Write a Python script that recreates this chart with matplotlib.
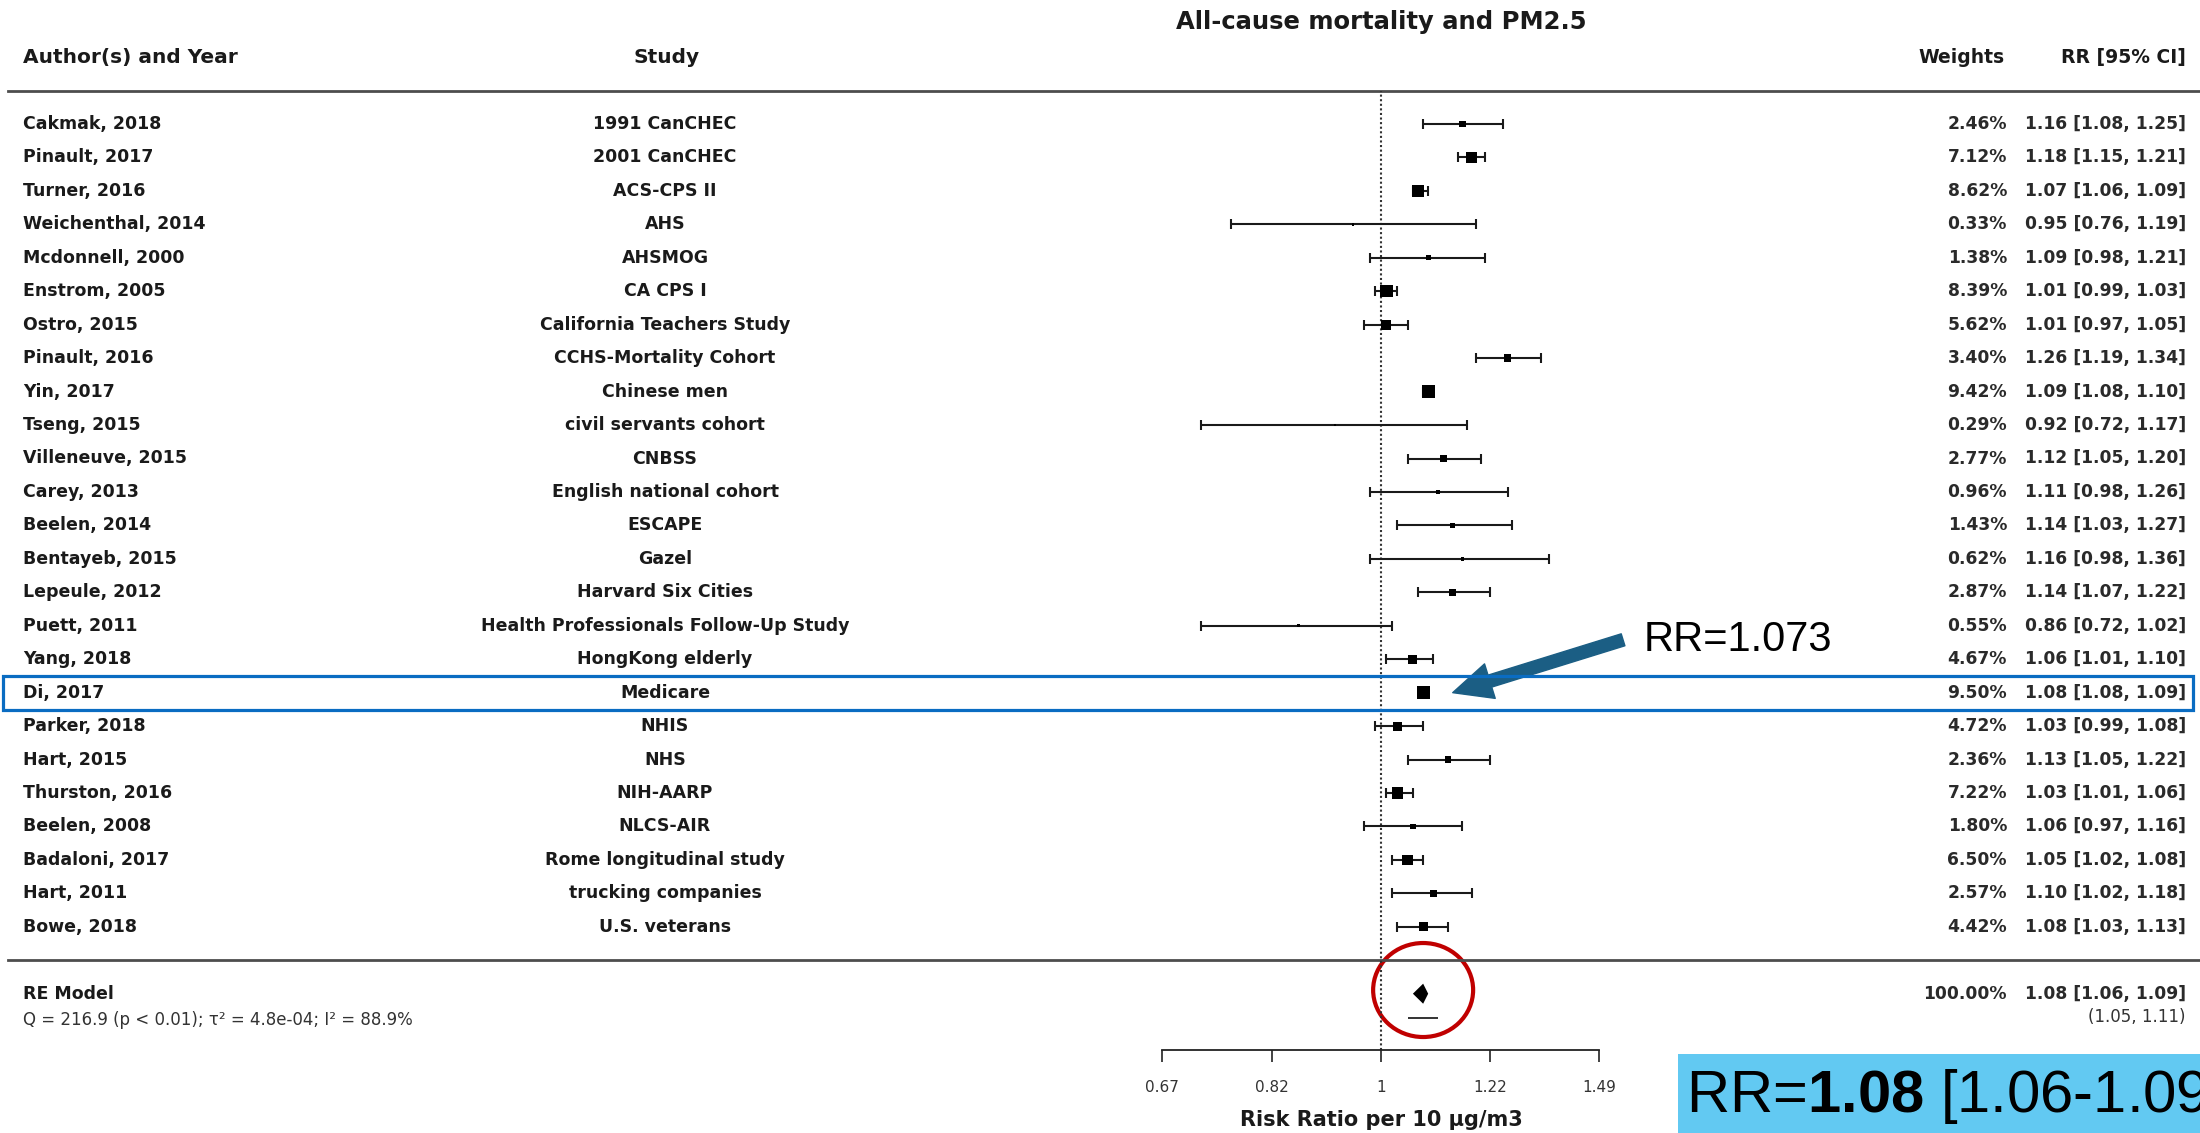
import numpy as np
import matplotlib.pyplot as plt
from matplotlib.patches import Rectangle, Ellipse
from matplotlib.transforms import ScaledTranslation
from matplotlib.ticker import NullLocator

plt.rcParams['font.family'] = ['DejaVu Sans']
plt.rcParams['mathtext.fontset'] = 'custom'
plt.rcParams['mathtext.rm'] = 'Liberation Sans'
plt.rcParams['mathtext.bf'] = 'Liberation Sans:bold'

# per-study results (RR per 10 ug/m3 PM2.5)
authors = ["Cakmak, 2018", "Pinault, 2017", "Turner, 2016", "Weichenthal, 2014",
           "Mcdonnell, 2000", "Enstrom, 2005", "Ostro, 2015", "Pinault, 2016",
           "Yin, 2017", "Tseng, 2015", "Villeneuve, 2015", "Carey, 2013",
           "Beelen, 2014", "Bentayeb, 2015", "Lepeule, 2012", "Puett, 2011",
           "Yang, 2018", "Di, 2017", "Parker, 2018", "Hart, 2015",
           "Thurston, 2016", "Beelen, 2008", "Badaloni, 2017", "Hart, 2011",
           "Bowe, 2018"]
studies = ["1991 CanCHEC", "2001 CanCHEC", "ACS-CPS II", "AHS", "AHSMOG",
           "CA CPS I", "California Teachers Study", "CCHS-Mortality Cohort",
           "Chinese men", "civil servants cohort", "CNBSS", "English national cohort",
           "ESCAPE", "Gazel", "Harvard Six Cities", "Health Professionals Follow-Up Study",
           "HongKong elderly", "Medicare", "NHIS", "NHS", "NIH-AARP", "NLCS-AIR",
           "Rome longitudinal study", "trucking companies", "U.S. veterans"]
weights = [2.46, 7.12, 8.62, 0.33, 1.38, 8.39, 5.62, 3.40, 9.42, 0.29, 2.77, 0.96,
           1.43, 0.62, 2.87, 0.55, 4.67, 9.50, 4.72, 2.36, 7.22, 1.80, 6.50, 2.57, 4.42]
rr = [1.16, 1.18, 1.07, 0.95, 1.09, 1.01, 1.01, 1.26, 1.09, 0.92, 1.12, 1.11,
      1.14, 1.16, 1.14, 0.86, 1.06, 1.08, 1.03, 1.13, 1.03, 1.06, 1.05, 1.10, 1.08]
ci_lo = [1.08, 1.15, 1.06, 0.76, 0.98, 0.99, 0.97, 1.19, 1.08, 0.72, 1.05, 0.98,
         1.03, 0.98, 1.07, 0.72, 1.01, 1.08, 0.99, 1.05, 1.01, 0.97, 1.02, 1.02, 1.03]
ci_hi = [1.25, 1.21, 1.09, 1.19, 1.21, 1.03, 1.05, 1.34, 1.10, 1.17, 1.20, 1.26,
         1.27, 1.36, 1.22, 1.02, 1.10, 1.09, 1.08, 1.22, 1.06, 1.16, 1.08, 1.18, 1.13]

# random-effects summary
re_weight = 100.00
re_rr, re_lo, re_hi = 1.08, 1.06, 1.09
pi_lo, pi_hi = 1.05, 1.11
re_stats = "Q = 216.9 (p < 0.01); \u03c4\u00b2 = 4.8e-04; I\u00b2 = 88.9%"

ticks = [0.67, 0.82, 1, 1.22, 1.49]
tick_labels = ["0.67", "0.82", "1", "1.22", "1.49"]

highlight = "Di, 2017"
highlight_label = "RR=1.073"

n = len(rr)
ypos = np.arange(n, 0, -1)
rr_a = np.array(rr)
lo_a = np.array(ci_lo)
hi_a = np.array(ci_hi)
w_a = np.array(weights)

W, H = 2200, 1133
fig = plt.figure(figsize=(W / 100, H / 100), dpi=100)
ax = fig.add_axes([0, 0, 1, 1])
ax.set_xscale('log')
px_per_ln = 547.5
x0 = 1381
ax.set_xlim(np.exp(-x0 / px_per_ln), np.exp((W - x0) / px_per_ln))
row_h = 33.45
ax.set_ylim(n - (H - 124) / row_h, n + 124 / row_h)

ink = '#1a1a1a'
grey_ink = '#2a2a2a'
trans = ax.get_yaxis_transform()

# x axis at the bottom, only over the tick range
axis_y = -2.68
for s in ['left', 'right', 'top']:
    ax.spines[s].set_visible(False)
ax.spines['bottom'].set_position(('data', axis_y))
ax.spines['bottom'].set_bounds(ticks[0], ticks[-1])
ax.spines['bottom'].set_linewidth(1.3)
ax.spines['bottom'].set_color('#222222')
ax.set_xticks(ticks)
ax.set_xticklabels(tick_labels)
ax.xaxis.set_minor_locator(NullLocator())
ax.tick_params(axis='x', direction='out', length=8.6, width=1.2, color='#222222',
               pad=13, labelsize=11, labelcolor='#333333')
ax.set_yticks([])

# header / footer rules and reference line
ax.axhline(n + 1, xmin=8 / W, color='#4d4d4d', lw=2)
ax.axhline(0, xmin=8 / W, color='#4d4d4d', lw=2)
ax.vlines(1, axis_y, n + 1, colors='#333333', lw=1.5, linestyles=(0, (1, 1.2)))

# study CIs and squares (area ~ weight)
ax.errorbar(rr_a, ypos, xerr=[rr_a - lo_a, hi_a - rr_a], fmt='none', ecolor=ink,
            elinewidth=1.5, capsize=3.6, capthick=1.5, zorder=2)
side_pt = 13 * np.sqrt(w_a / w_a.max()) * 0.72
ax.scatter(rr_a, ypos, marker='s', s=side_pt ** 2, color='black', lw=0, zorder=3)

# summary diamond and prediction interval
dh = 0.3
ax.fill([re_lo, re_rr, re_hi, re_rr], [-1, -1 + dh, -1, -1 - dh], color='black', lw=0)
ax.hlines(-1.72, pi_lo, pi_hi, colors='#333333', lw=1.4)

# text columns
ax.text(1.0, n + 3.05, "All-cause mortality and PM2.5", ha='center', va='center',
        fontsize=17.5, weight='bold', color=ink)
ax.text(23 / W, n + 2, "Author(s) and Year", transform=trans, va='center',
        fontsize=14.5, weight='bold', color=ink)
ax.text(667 / W, n + 2, "Study", transform=trans, ha='center', va='center',
        fontsize=14.5, weight='bold', color=ink)
ax.text(2005 / W, n + 2, "Weights", transform=trans, ha='right', va='center',
        fontsize=13.5, weight='bold', color=ink)
ax.text(2186 / W, n + 2, "RR [95% CI]", transform=trans, ha='right', va='center',
        fontsize=13.5, weight='bold', color=ink)

for y, a, s, w, r, lo, hi in zip(ypos, authors, studies, weights, rr, ci_lo, ci_hi):
    ax.text(23 / W, y, a, transform=trans, va='center', fontsize=12.5,
            weight='bold', color=ink)
    ax.text(665 / W, y, s, transform=trans, ha='center', va='center',
            fontsize=12.5, weight='bold', color=ink)
    ax.text(2007 / W, y, f"{w:.2f}%", transform=trans, ha='right', va='center',
            fontsize=12.3, weight='bold', color=grey_ink)
    ax.text(2186 / W, y, f"{r:.2f} [{lo:.2f}, {hi:.2f}]", transform=trans,
            ha='right', va='center', fontsize=12.3, weight='bold', color=grey_ink)

ax.text(23 / W, -1, "RE Model", transform=trans, va='center', fontsize=12.5,
        weight='bold', color=ink)
ax.text(23 / W, -1.79, re_stats, transform=trans, va='center', fontsize=12,
        color='#333333')
ax.text(2007 / W, -1, f"{re_weight:.2f}%", transform=trans, ha='right',
        va='center', fontsize=12.3, weight='bold', color=grey_ink)
ax.text(2186 / W, -1, f"{re_rr:.2f} [{re_lo:.2f}, {re_hi:.2f}]", transform=trans,
        ha='right', va='center', fontsize=12.3, weight='bold', color=grey_ink)
ax.text(2186 / W, -1.7, f"({pi_lo:.2f}, {pi_hi:.2f})", transform=trans,
        ha='right', va='center', fontsize=12, color='#333333')

ax.text(1.0, -4.78, "Risk Ratio per 10 \u00b5g/m3", ha='center', va='center',
        fontsize=15, weight='bold', color=ink)

# highlight the Medicare cohort
hy = ypos[authors.index(highlight)]
ax.add_patch(Rectangle((3 / W, hy - 0.51), (2193 - 3) / W, 1.02, transform=trans,
                       fill=False, ec='#0a6cc2', lw=2.3, zorder=4))
ax.annotate('', xy=(1.14, hy), xytext=(1.556, hy + 1.58),
            arrowprops=dict(arrowstyle='simple,head_length=1.4,head_width=1.3,tail_width=0.45',
                            color='#1b5e84', shrinkA=0, shrinkB=0, mutation_scale=20))
ax.text(1644 / W, hy + 1.58, highlight_label, transform=trans, va='center',
        fontsize=30, family=['Liberation Sans', 'DejaVu Sans'], color='black')

# circle round the pooled estimate
circ = Ellipse((0, 0), 1.0, 0.94, fill=False, ec='#c00000', lw=3,
               transform=fig.dpi_scale_trans + ScaledTranslation(re_rr, -0.89, ax.transData))
ax.add_patch(circ)

# pooled result box, running off the right edge
ax.add_patch(Rectangle((1678 / W, 0), 1, 1 - 1054 / H, transform=ax.transAxes,
                       color='#62c9f2', lw=0, zorder=1))
ax.text(1686 / W, -4.54, f"RR=$\\mathbf{{{re_rr:.2f}}}$ [{re_lo:.2f}-{re_hi:.2f}]",
        transform=trans, va='baseline', fontsize=43,
        family=['Liberation Sans', 'DejaVu Sans'], color='black', zorder=2)

fig.savefig('out.png', dpi=100)
